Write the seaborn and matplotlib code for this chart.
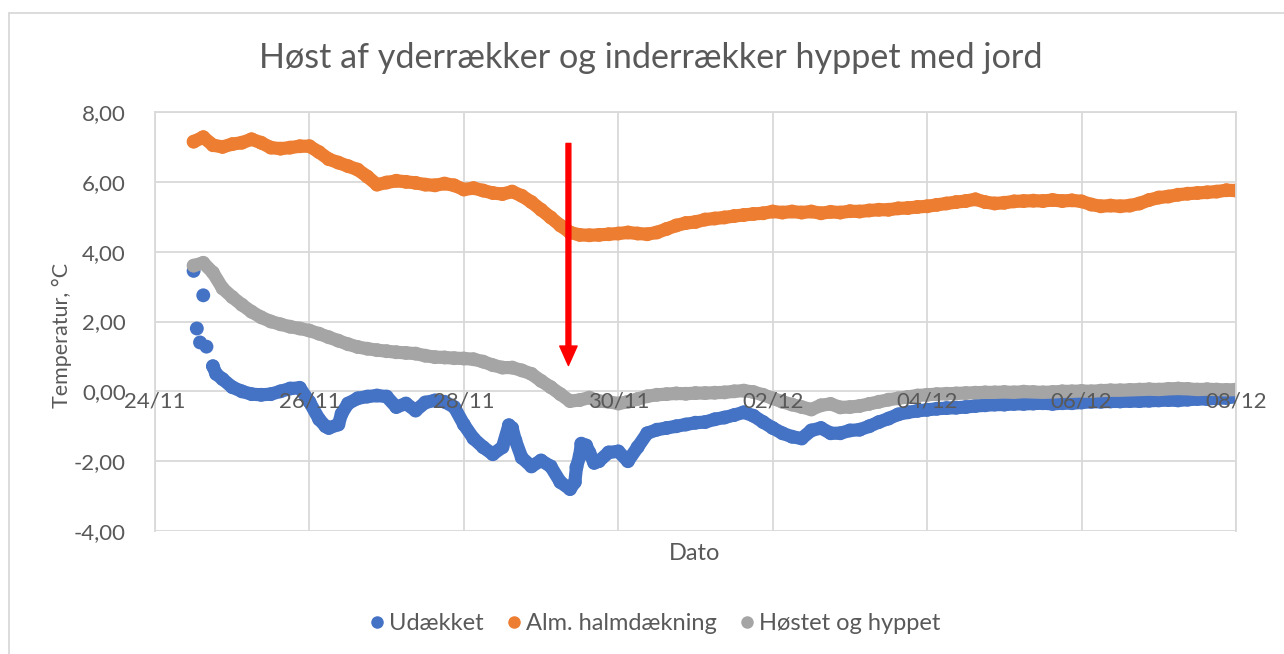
import matplotlib
matplotlib.use("Agg")
import matplotlib.pyplot as plt
import matplotlib.dates as mdates
from matplotlib.lines import Line2D
from matplotlib.ticker import FuncFormatter
import pandas as pd
import seaborn as sns

# measurements every 3 hours from 24/11 12:00 to 08/12 00:00
times = pd.date_range("2020-11-24 12:00", periods=109, freq="3h")

udaekket = [
    3.45, 2.75, 0.72, 0.35,
    0.12, 0.00, -0.08, -0.10, -0.08, 0.00, 0.08, 0.10,
    -0.30, -0.80, -1.05, -0.95, -0.35, -0.20, -0.15, -0.12,
    -0.15, -0.45, -0.35, -0.55, -0.32, -0.26, -0.30, -0.45,
    -0.95, -1.35, -1.60, -1.80, -1.60, -1.05, -1.90, -2.15,
    -1.98, -2.15, -2.60, -2.80, -1.85, -1.75, -2.00, -1.75,
    -1.72, -2.00, -1.60, -1.20, -1.10, -1.05, -1.00, -0.95,
    -0.90, -0.88, -0.80, -0.75, -0.68, -0.60, -0.70, -0.88,
    -1.05, -1.20, -1.30, -1.35, -1.12, -1.05, -1.20, -1.20,
    -1.12, -1.10, -1.00, -0.88, -0.78, -0.66, -0.60, -0.56,
    -0.53, -0.50, -0.48, -0.47, -0.45, -0.42, -0.40, -0.38,
    -0.38, -0.36, -0.36, -0.35, -0.34, -0.36, -0.34, -0.34,
    -0.32, -0.30, -0.30, -0.29, -0.29, -0.28, -0.28, -0.27,
    -0.26, -0.25, -0.26, -0.24, -0.22, -0.22, -0.20, -0.19,
    -0.15,
]

# a few extra readings where the uncovered sensor jumped around
udaekket_extra_times = pd.to_datetime([
    "2020-11-24 13:00", "2020-11-24 14:00", "2020-11-24 16:00", "2020-11-24 19:00",
    "2020-11-26 05:00", "2020-11-26 10:00", "2020-11-28 14:00", "2020-11-28 16:00",
    "2020-11-29 10:30", "2020-11-29 11:00", "2020-11-29 12:30", "2020-11-29 14:00",
    "2020-11-29 16:30",
])
udaekket_extra = [1.80, 1.40, 1.28, 0.50, -1.00, -0.64, -0.97, -1.40,
                  -2.60, -2.17, -1.50, -1.55, -2.05]

halm = [
    7.15, 7.28, 7.05, 7.00,
    7.08, 7.12, 7.22, 7.12, 6.98, 6.95, 6.98, 7.02,
    7.02, 6.85, 6.65, 6.55, 6.45, 6.35, 6.15, 5.92,
    5.98, 6.03, 6.00, 5.97, 5.92, 5.90, 5.95, 5.90,
    5.78, 5.82, 5.75, 5.68, 5.65, 5.72, 5.60, 5.42,
    5.20, 4.98, 4.75, 4.55, 4.48, 4.47, 4.48, 4.50,
    4.52, 4.55, 4.52, 4.50, 4.55, 4.65, 4.75, 4.82,
    4.85, 4.92, 4.95, 4.98, 5.02, 5.05, 5.08, 5.10,
    5.15, 5.12, 5.15, 5.12, 5.15, 5.10, 5.14, 5.12,
    5.16, 5.15, 5.18, 5.20, 5.20, 5.24, 5.25, 5.28,
    5.30, 5.34, 5.38, 5.42, 5.45, 5.50, 5.42, 5.38,
    5.40, 5.44, 5.45, 5.46, 5.45, 5.48, 5.45, 5.47,
    5.44, 5.35, 5.30, 5.32, 5.30, 5.32, 5.38, 5.48,
    5.55, 5.58, 5.63, 5.66, 5.68, 5.70, 5.72, 5.76,
    5.75,
]

hyppet = [
    3.60, 3.68, 3.40, 2.95,
    2.70, 2.48, 2.28, 2.12, 2.00, 1.92, 1.85, 1.80,
    1.74, 1.65, 1.55, 1.45, 1.35, 1.27, 1.22, 1.18,
    1.15, 1.12, 1.10, 1.08, 1.02, 0.98, 0.97, 0.95,
    0.94, 0.92, 0.85, 0.75, 0.68, 0.68, 0.60, 0.50,
    0.30, 0.12, -0.08, -0.28, -0.25, -0.18, -0.28, -0.30,
    -0.35, -0.30, -0.22, -0.14, -0.10, -0.08, -0.06, -0.07,
    -0.05, -0.05, -0.04, -0.03, 0.00, 0.02, -0.02, -0.10,
    -0.20, -0.30, -0.38, -0.45, -0.52, -0.40, -0.36, -0.46,
    -0.45, -0.42, -0.36, -0.30, -0.24, -0.20, -0.16, -0.12,
    -0.10, -0.08, -0.07, -0.06, -0.05, -0.04, -0.03, -0.03,
    -0.02, -0.03, -0.01, -0.02, -0.03, -0.02, 0.00, 0.00,
    0.01, 0.00, 0.02, 0.03, 0.03, 0.04, 0.05, 0.06,
    0.05, 0.07, 0.08, 0.07, 0.05, 0.06, 0.05, 0.04,
    0.05,
]

series_names = ["Udækket", "Alm. halmdækning", "Høstet og hyppet"]
colors = ["#4472C4", "#ED7D31", "#A5A5A5"]

arrow_time = pd.Timestamp("2020-11-29 08:30")
arrow_top = 7.10
arrow_tip = 0.74

# long format, blue first so grey ends up on top
blue = pd.DataFrame({"tid": list(times) + list(udaekket_extra_times),
                     "temp": udaekket + udaekket_extra})
blue = blue.sort_values("tid")
blue["serie"] = series_names[0]
orange = pd.DataFrame({"tid": times, "temp": halm, "serie": series_names[1]})
grey = pd.DataFrame({"tid": times, "temp": hyppet, "serie": series_names[2]})
df = pd.concat([blue, orange, grey], ignore_index=True)

# the dense logger points merge into a band; the first blue readings stay loose dots
band = df[~((df["serie"] == series_names[0]) & (df["tid"] < pd.Timestamp("2020-11-24 18:00")))]

sns.set_theme(style="whitegrid")
plt.rcParams["font.family"] = ["Lato", "DejaVu Sans"]

text_col = "#595959"
grid_col = "#D9D9D9"

xmin, xmax = pd.Timestamp("2020-11-24"), pd.Timestamp("2020-12-08")
date_ticks = pd.date_range("2020-11-24", "2020-12-08", freq="2D")

fig = plt.figure(figsize=(12.84, 6.54), dpi=100)
ax = fig.add_axes([155 / 1284, 1 - 531 / 654, (1236 - 155) / 1284, (531 - 112) / 654])

sns.scatterplot(data=df, x="tid", y="temp", hue="serie", hue_order=series_names,
                palette=colors, s=100, linewidth=0, ax=ax, legend=False, zorder=1)
sns.lineplot(data=band, x="tid", y="temp", hue="serie", hue_order=series_names,
             palette=colors, estimator=None, linewidth=9.5, ax=ax, legend=False,
             solid_capstyle="round", solid_joinstyle="round", zorder=2)

ax.set_xlim(xmin, xmax)
ax.set_ylim(-4, 8)
ax.set_yticks([-4, -2, 0, 2, 4, 6, 8])
ax.set_xticks(date_ticks)
ax.yaxis.set_major_formatter(FuncFormatter(lambda v, p: f"{v:.2f}".replace(".", ",")))
ax.spines["bottom"].set_visible(False)
for side in ["top", "left", "right"]:
    ax.spines[side].set_color(grid_col)
    ax.spines[side].set_linewidth(1.3)
ax.grid(True, color=grid_col, linewidth=1.3)
ax.tick_params(axis="x", length=0, labelbottom=False)
ax.tick_params(axis="y", length=0, pad=21, labelsize=16, labelcolor=text_col)
ax.set_xlabel("")
ax.set_ylabel("")

# date labels sit on the zero line and on top of the data, like in Excel
ax2 = ax.twiny()
ax2.set_xlim(xmin, xmax)
ax2.set_xticks(date_ticks)
ax2.xaxis.set_major_formatter(mdates.DateFormatter("%d/%m"))
ax2.xaxis.set_ticks_position("bottom")
ax2.spines["bottom"].set_position(("data", 0))
for s in ax2.spines.values():
    s.set_visible(False)
ax2.grid(False)
ax2.tick_params(axis="x", length=0, pad=0, labelsize=16, labelcolor=text_col,
                labeltop=False, labelbottom=True)

ax.annotate("", xy=(arrow_time, arrow_tip), xytext=(arrow_time, arrow_top),
            arrowprops=dict(facecolor="red", edgecolor="red", width=3.5,
                            headwidth=12.5, headlength=14, shrink=0), zorder=5)

fig.text(651 / 1284, 1 - 58 / 654, "Høst af yderrækker og inderrækker hyppet med jord",
         ha="center", va="center", fontsize=24.6, color=text_col)
fig.text(695 / 1284, 1 - 553 / 654, "Dato", ha="center", va="center",
         fontsize=17, color=text_col)
fig.text(62 / 1284, 1 - 335 / 654, "Temperatur, °C", ha="center", va="center",
         rotation=90, fontsize=15.5, color=text_col)

handles = [Line2D([], [], marker="o", linestyle="", markersize=9,
                  markerfacecolor=c, markeredgewidth=0) for c in colors]
fig.legend(handles, series_names, loc="center", bbox_to_anchor=(655 / 1284, 1 - 624 / 654),
           ncol=3, frameon=False, fontsize=17, handlelength=0.6, handletextpad=0.2,
           columnspacing=1.0, labelcolor=text_col)

# outer chart frame (only top and left edges are visible in the crop)
fig.add_artist(Line2D([9 / 1284, 1], [1 - 13 / 654, 1 - 13 / 654],
                      transform=fig.transFigure, color=grid_col, linewidth=1.3))
fig.add_artist(Line2D([9 / 1284, 9 / 1284], [0, 1 - 13 / 654],
                      transform=fig.transFigure, color=grid_col, linewidth=1.3))

fig.savefig("out.png", dpi=100, facecolor="white")
